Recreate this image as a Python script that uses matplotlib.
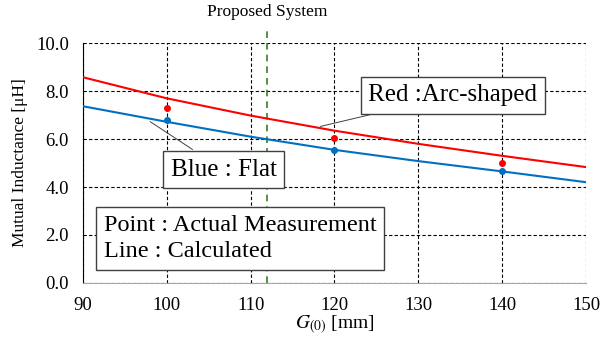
#!/usr/bin/env python3

import numpy as np
import matplotlib.pyplot as plt

plt.rcParams['font.family'] = ['Liberation Serif', 'DejaVu Serif']
plt.rcParams['mathtext.fontset'] = 'stix'

# calculated curves
g_calc = [90, 100, 110, 120, 130, 140, 150]
red_calc = [8.58, 7.70, 6.98, 6.35, 5.80, 5.30, 4.83]
blue_calc = [7.37, 6.72, 6.10, 5.55, 5.08, 4.65, 4.20]

# measured points
g_meas = [100, 120, 140]
red_meas = [7.30, 6.04, 5.00]
blue_meas = [6.80, 5.55, 4.67]

proposed_g = 112

fig = plt.figure(figsize=(6, 3.51), dpi=100)
ax = fig.add_axes([0.138, 0.194, 0.839, 0.683])

ax.plot(g_calc, red_calc, color='#ff0000', lw=1.5, zorder=3)
ax.plot(g_calc, blue_calc, color='#0070c0', lw=1.5, zorder=3)
ax.plot(g_meas, red_meas, 'o', color='#ff0000', ms=4, zorder=4)
ax.plot(g_meas, blue_meas, 'o', color='#0070c0', ms=4, zorder=4)

ax.set_xlim(90, 150)
ax.set_ylim(0, 10)
ax.set_xticks(np.arange(90, 151, 10))
ax.set_yticks(np.arange(0, 10.1, 2))
ax.set_yticklabels(['%.1f' % v for v in np.arange(0, 10.1, 2)])
ax.grid(True, color='black', ls=(0, (3, 2)), lw=0.8)
ax.spines['top'].set_visible(False)
ax.spines['right'].set_visible(False)
ax.spines['left'].set_color('black')
ax.spines['bottom'].set_color('#a6a6a6')
ax.tick_params(length=0, labelsize=13.5, pad=10)

# proposed system line sticks out above the axes
ax.plot([proposed_g, proposed_g], [0, 10.55], color='#3a7d22', ls=(0, (4, 3)),
        lw=1.2, clip_on=False, zorder=2)
ax.text(proposed_g, 11.3, 'Proposed System', ha='center', va='center', fontsize=12.5)

ax.set_ylabel('Mutual Inductance [μH]', fontsize=12.5, labelpad=6)
ax.set_xlabel(r'$G_{(0)}$ [mm]', fontsize=14, labelpad=0)

box = dict(boxstyle='square,pad=0.3', fc='white', ec='#404040', lw=1)
arrow = dict(arrowstyle='-', color='#404040', lw=0.7)
ax.annotate('Red :Arc-shaped', xy=(118.0, 6.5), xytext=(124.0, 7.83),
            fontsize=18, bbox=box, arrowprops=arrow, va='center', ha='left', zorder=5)
ax.annotate('Blue : Flat', xy=(97.75, 6.79), xytext=(100.5, 4.71),
            fontsize=18, bbox=box, arrowprops=arrow, va='center', ha='left', zorder=5)
ax.text(92.5, 1.85, 'Point : Actual Measurement\nLine : Calculated', fontsize=17.5,
        va='center', ha='left', linespacing=1.35,
        bbox=dict(boxstyle='square,pad=0.3', fc='white', ec='#404040', lw=1), zorder=5)

fig.savefig('out.png', dpi=100)
